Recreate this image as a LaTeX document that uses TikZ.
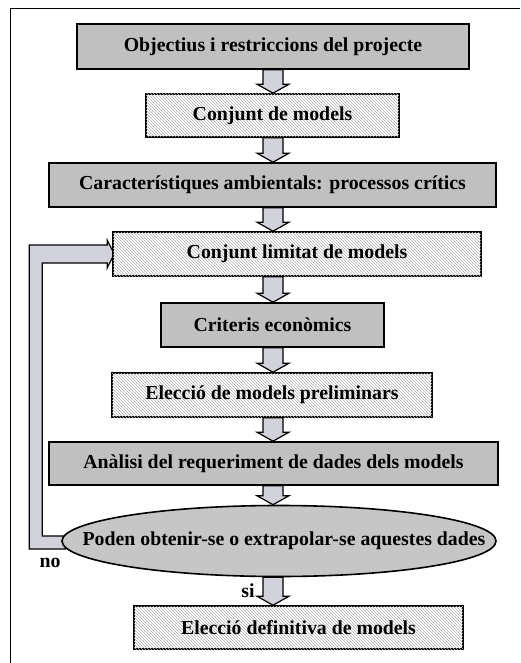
\documentclass[tikz,border=0pt]{standalone}
\usepackage{fontspec}
\setmainfont{Liberation Serif}
\usetikzlibrary{patterns,shapes.geometric,backgrounds,calc}

\definecolor{boxgray}{RGB}{192,192,192}
\definecolor{ellgray}{RGB}{198,198,198}
\definecolor{arrowgray}{RGB}{210,210,218}
\definecolor{hatchgray}{RGB}{178,178,178}

\tikzset{
  base/.style={draw=black, line width=1.6pt, inner sep=0pt,
    font=\fontsize{19.8}{23}\selectfont\bfseries},
  solidbox/.style={base, rectangle, fill=boxgray},
  hatchbox/.style={base, rectangle, fill=white,
    postaction={pattern=north west lines, pattern color=hatchgray}},
  decision/.style={base, ellipse, fill=ellgray},
  arrowbody/.style={draw=black, line width=1.2pt, fill=arrowgray, line join=miter},
  answer/.style={font=\fontsize{19.8}{23}\selectfont\bfseries, inner sep=0pt},
  frameline/.style={draw=black, line width=1.5pt}
}

% vertical block arrow from the bottom of #1 to the top of #2, on the axis
\newcommand\flowarrow[2]{%
  \path[arrowbody] let \p1=(#1.south -| ax), \p2=(#2.north -| ax) in
    (\x1-10pt,\y1) -- (\x1+10pt,\y1) -- (\x1+10pt,\y2+9pt) -- (\x1+16pt,\y2+9pt)
    -- (\x1,\y2) -- (\x1-16pt,\y2+9pt) -- (\x1-10pt,\y2+9pt) -- cycle;}

\begin{document}
\begin{tikzpicture}[x=1pt,y=-1pt]
  \useasboundingbox (0,0) rectangle (520,663);

  % page frame
  \draw[frameline] (520,8.5) -- (10.5,8.5) -- (10.5,663);

  \coordinate (ax) at (273,0);

  \node[solidbox, minimum width=392, minimum height=45] (b1) at (273,46.5)
    {Objectius i restriccions del projecte};
  \node[hatchbox, minimum width=253, minimum height=43] (b2) at (272.5,115.5)
    {Conjunt de models};
  \node[solidbox, minimum width=447, minimum height=44] (b3) at (272.5,185)
    {Característiques ambientals: processos crítics\hspace{27pt}};
  \node[hatchbox, minimum width=368, minimum height=44] (b4) at (297,254)
    {Conjunt limitat de models\hspace{43pt}};
  \node[solidbox, minimum width=223, minimum height=44] (b5) at (272.5,325)
    {Criteris econòmics};
  \node[hatchbox, minimum width=320, minimum height=44] (b6) at (272,395)
    {Elecció de models preliminars};
  \node[solidbox, minimum width=449, minimum height=43] (b7) at (273.5,463.5)
    {Anàlisi del requeriment de dades dels models};
  \node[decision, minimum width=434, minimum height=71] (ell) at (279,541)
    {\makebox[0pt]{\hspace{10pt}Poden obtenir-se o extrapolar-se aquestes dades}};
  \node[hatchbox, minimum width=329, minimum height=43] (b8) at (298.5,627.5)
    {Elecció definitiva de models};

  \flowarrow{b1}{b2}
  \flowarrow{b2}{b3}
  \flowarrow{b3}{b4}
  \flowarrow{b4}{b5}
  \flowarrow{b5}{b6}
  \flowarrow{b6}{b7}
  \flowarrow{b7}{ell}
  \flowarrow{ell}{b8}

  % "no" branch back to the limited set of models
  \begin{scope}[on background layer]
    \path[arrowbody] let \p1=(ell.west), \p2=(b4.west) in
      (\x1+4pt,\y1-8pt) -- (\x1-32pt,\y1-8pt) -- (\x1-32pt,\y2+9pt)
      -- (\x2-5pt,\y2+9pt) -- (\x2-5pt,\y2+14pt) -- (\x2+2pt,\y2)
      -- (\x2-5pt,\y2-14pt) -- (\x2-5pt,\y2-9pt) -- (\x1-19pt,\y2-9pt)
      -- (\x1-19pt,\y1+5pt) -- (\x1+4pt,\y1+5pt) -- cycle;
  \end{scope}

  \node[answer] (no) at (50,563) {no};
  \node[answer] (si) at (248,591) {si};
\end{tikzpicture}
\end{document}
